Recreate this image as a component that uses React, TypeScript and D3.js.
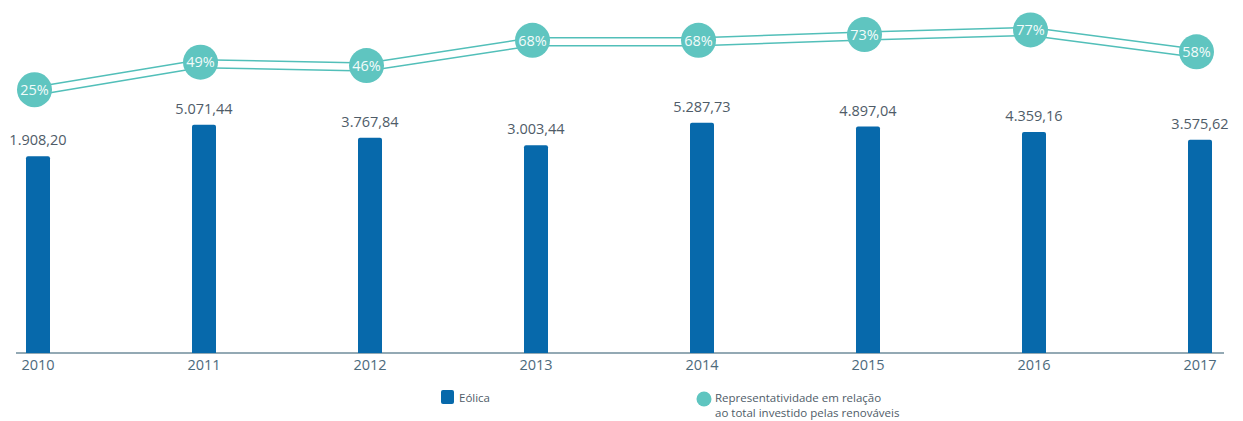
import React, { useEffect, useRef } from "react";
import * as d3 from "d3";

const years = ["2010", "2011", "2012", "2013", "2014", "2015", "2016", "2017"];
const eolica = [1908.2, 5071.44, 3767.84, 3003.44, 5287.73, 4897.04, 4359.16, 3575.62];
const share = [25, 49, 46, 68, 68, 73, 77, 58];

const legendBar = "Eólica";
const legendLine = ["Representatividade em relação", "ao total investido pelas renováveis"];

const BLUE = "#0769ab";
const TEAL = "#5fc5c0";
const TEXT = "#4f5c68";

const ptBR = d3.formatLocale({ decimal: ",", thousands: ".", grouping: [3], currency: ["R$", ""] });
const fmt = ptBR.format(",.2f");

const App = () => {
  const ref = useRef<SVGSVGElement>(null);

  useEffect(() => {
    const width = 1243;
    const height = 421;
    const svg = d3.select(ref.current);
    svg.selectAll("*").remove();
    svg.attr("width", width).attr("height", height).attr("font-family", "'Open Sans', sans-serif");

    const baseline = 353;
    const x = d3.scalePoint<string>().domain(years).range([38, 1200]);
    // bars in the original are drawn from a cut-off base
    const y = d3.scaleLinear().domain([-18000, 5300]).range([baseline, 122.6]);
    const yp = d3.scaleLinear().domain([0, 100]).range([118.5, 3.5]);
    const barW = 24;
    const cx = (d: string) => (x(d) as number) - 3.5;

    const rows = years.map((yr, i) => ({ yr, v: eolica[i], p: share[i] }));

    // axis line
    svg.append("line")
      .attr("x1", 16).attr("x2", 1224)
      .attr("y1", baseline).attr("y2", baseline)
      .attr("stroke", "#6f8c9b").attr("stroke-width", 1.5);

    // bars
    svg.append("g").selectAll("path")
      .data(rows)
      .join("path")
      .attr("fill", BLUE)
      .attr("d", d => {
        const x0 = (x(d.yr) as number) - barW / 2;
        const y0 = y(d.v);
        const r = 2;
        return `M${x0},${baseline}V${y0 + r}Q${x0},${y0} ${x0 + r},${y0}H${x0 + barW - r}Q${x0 + barW},${y0} ${x0 + barW},${y0 + r}V${baseline}Z`;
      });

    // bar value labels
    svg.append("g").selectAll("text")
      .data(rows)
      .join("text")
      .attr("x", d => x(d.yr) as number)
      .attr("y", d => y(d.v) - 11)
      .attr("text-anchor", "middle")
      .attr("font-size", 14.5)
      .attr("fill", TEXT)
      .text(d => fmt(d.v));

    // year labels
    svg.append("g").selectAll("text")
      .data(rows)
      .join("text")
      .attr("x", d => x(d.yr) as number)
      .attr("y", 370)
      .attr("text-anchor", "middle")
      .attr("font-size", 14.5)
      .attr("fill", "#4d6a7c")
      .text(d => d.yr);

    // double line for the share
    const line = d3.line<{ yr: string; p: number }>()
      .x(d => cx(d.yr))
      .y(d => yp(d.p) + 1.5);
    svg.append("path")
      .datum(rows)
      .attr("d", line)
      .attr("fill", "none")
      .attr("stroke", "#52bfb9")
      .attr("stroke-width", 9.5);
    svg.append("path")
      .datum(rows)
      .attr("d", line)
      .attr("fill", "none")
      .attr("stroke", "#fff")
      .attr("stroke-width", 6.5);

    const dots = svg.append("g").selectAll("g")
      .data(rows)
      .join("g")
      .attr("transform", d => `translate(${cx(d.yr)},${yp(d.p)})`);
    dots.append("circle").attr("r", 17.5).attr("fill", TEAL);
    dots.append("text")
      .attr("text-anchor", "middle")
      .attr("dy", "0.36em")
      .attr("font-size", 14.5)
      .attr("fill", "#f2fbfa")
      .text(d => `${d.p}%`);

    // legend
    const lg = svg.append("g");
    lg.append("rect")
      .attr("x", 441).attr("y", 390).attr("width", 13).attr("height", 14).attr("rx", 2)
      .attr("fill", BLUE);
    lg.append("text")
      .attr("x", 459).attr("y", 402)
      .attr("font-size", 11.5).attr("fill", TEXT)
      .text(legendBar);
    lg.append("circle").attr("cx", 704).attr("cy", 399).attr("r", 7.5).attr("fill", TEAL);
    lg.append("text")
      .attr("font-size", 11.5).attr("fill", TEXT)
      .selectAll("tspan")
      .data(legendLine)
      .join("tspan")
      .attr("x", 715)
      .attr("y", (d, i) => 402 + i * 14.5)
      .text(d => d);
  }, []);

  return (
    <div style={{ position: "absolute", left: 0, top: 0 }}>
      <svg ref={ref} style={{ display: "block" }} />
    </div>
  );
};

export default App;
